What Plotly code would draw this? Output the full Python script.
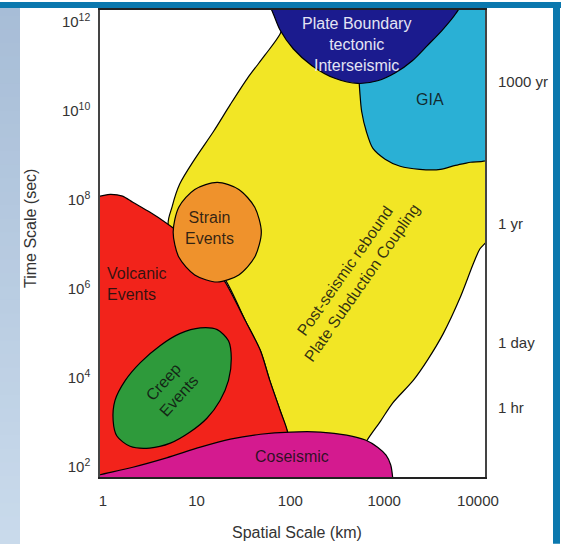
import numpy as np
import plotly.graph_objects as go

# Region outlines, stored as log10(spatial scale, km) and log10(time scale, s)
postseismic_x = [0.70, 0.74, 0.82, 0.98, 1.18, 1.36, 1.54, 1.73, 1.89, 2.02, 4.13, 4.13, 4.02, 3.95,
                 3.81, 3.63, 3.46, 3.31, 3.09, 2.96, 2.82, 2.69, 2.10, 1.97, 1.89, 1.78, 1.68, 1.52,
                 1.30, 1.04]
postseismic_y = [7.42, 7.86, 8.36, 8.92, 9.54, 10.15, 10.73, 11.26, 11.73, 12.45, 12.45, 7.20, 6.90, 6.57,
                 5.81, 5.00, 4.40, 3.95, 3.44, 3.03, 2.61, 2.05, 2.05, 2.79, 3.28, 3.95, 4.62, 5.29,
                 6.23, 6.86]

volcanic_x = [-0.08, -0.03, 0.08, 0.21, 0.32, 0.50, 0.68, 0.93, 1.16, 1.31, 1.52, 1.68, 1.78, 1.89,
              1.97, 2.02, -0.08]
volcanic_y = [8.09, 8.09, 8.13, 8.09, 7.95, 7.73, 7.48, 7.08, 6.59, 6.14, 5.29, 4.62, 3.95, 3.28,
              2.79, 1.71, 1.71]

strain_x = [1.69, 1.62, 1.45, 1.22, 0.98, 0.81, 0.75, 0.81, 0.98, 1.22, 1.45, 1.62]
strain_y = [7.28, 7.84, 8.24, 8.40, 8.24, 7.84, 7.28, 6.72, 6.32, 6.16, 6.32, 6.72]

creep_x = [0.11, 0.13, 0.24, 0.40, 0.61, 0.82, 1.04, 1.22, 1.34, 1.37, 1.34, 1.25, 1.11, 0.93,
           0.72, 0.50, 0.29, 0.15]
creep_y = [3.05, 3.50, 3.95, 4.35, 4.73, 5.00, 5.13, 5.09, 4.84, 4.44, 3.95, 3.50, 3.10, 2.79,
           2.54, 2.43, 2.47, 2.70]

gia_x = [2.69, 4.13, 4.13, 3.92, 3.76, 3.60, 3.38, 3.17, 3.01, 2.88, 2.81, 2.76, 2.74, 2.72]
gia_y = [12.45, 12.45, 8.94, 8.85, 8.78, 8.69, 8.69, 8.76, 8.92, 9.16, 9.54, 9.99, 10.44, 11.11]

plate_x = [1.72, 1.80, 1.89, 2.03, 2.23, 2.48, 2.72, 2.93, 3.12, 3.30, 3.46, 3.62, 3.76, 3.85]
plate_y = [12.56, 12.27, 11.82, 11.40, 11.02, 10.73, 10.62, 10.68, 10.86, 11.13, 11.47, 11.82, 12.18, 12.56]

coseismic_x = [-0.08, -0.03, 0.32, 0.68, 1.04, 1.36, 1.68, 2.00, 2.32, 2.60, 2.80, 2.93, 3.02, 3.07,
               3.09, 3.10, -0.08]
coseismic_y = [1.80, 1.83, 2.00, 2.21, 2.45, 2.63, 2.74, 2.79, 2.79, 2.72, 2.61, 2.45, 2.27, 2.05,
               1.78, 1.49, 1.49]

# Axis ticks
x_ticks = [1, 10, 100, 1000, 10000]
x_ticklabels = ["1", "10", "100", "1000", "10000"]
y_exponents = [2, 4, 6, 8, 10, 12]

# Reference durations on the right side (log10 s)
time_names = ["1000 yr", "1 yr", "1 day", "1 hr"]
time_log = [10.66, 7.48, 4.80, 3.35]

FONT = "Liberation Sans, Arial, Helvetica, sans-serif"
INK = "rgba(15,15,15,0.85)"

regions = [
    (postseismic_x, postseismic_y, "#F2E625"),
    (volcanic_x, volcanic_y, "#F2231B"),
    (strain_x, strain_y, "#EF922C"),
    (creep_x, creep_y, "#2E9A3B"),
    (gia_x, gia_y, "#2AB0D5"),
    (plate_x, plate_y, "#1B1B8E"),
    (coseismic_x, coseismic_y, "#D41A8F"),
]

fig = go.Figure()
for xs, ys, col in regions:
    xs = list(xs) + [xs[0]]
    ys = list(ys) + [ys[0]]
    fig.add_trace(go.Scatter(
        x=10 ** np.array(xs), y=10 ** np.array(ys),
        mode="lines", fill="toself", fillcolor=col,
        line=dict(color="black", width=1.2, shape="spline", smoothing=0.8),
        hoverinfo="skip", showlegend=False,
    ))

# Region labels: (text, log10 km, log10 s, angle, colour, anchor)
labels = [
    ("Plate Boundary<br>tectonic<br>Interseismic", 2.71, 11.50, 0, "#E4E4F4", "center"),
    ("GIA", 3.49, 10.26, 0, INK, "center"),
    ("Strain<br>Events", 1.14, 7.37, 0, INK, "center"),
    ("Volcanic<br>Events", 0.023, 6.12, 0, INK, "left"),
    ("Creep<br>Events", 0.73, 3.75, -48, INK, "center"),
    ("Post-seismic rebound<br>Plate Subduction Coupling", 2.67, 6.28, -55, INK, "center"),
    ("Coseismic", 2.02, 2.23, 0, INK, "center"),
]
for text, lx, ly, ang, col, anc in labels:
    fig.add_annotation(x=lx, y=ly, xref="x", yref="y", text=text, showarrow=False,
                       textangle=ang, xanchor=anc, yanchor="middle", align="left" if anc == "left" else "center",
                       font=dict(family=FONT, size=16, color=col))

for name, ly in zip(time_names, time_log):
    fig.add_annotation(x=1.0286, y=ly, xref="paper", yref="y", text=name, showarrow=False,
                       xanchor="left", yanchor="middle",
                       font=dict(family=FONT, size=15, color="#333"))

# Axis titles
fig.add_annotation(x=0.512, y=-0.119, xref="paper", yref="paper", text="Spatial Scale (km)",
                   showarrow=False, xanchor="center", yanchor="middle",
                   font=dict(family=FONT, size=16, color="#333"))
fig.add_annotation(x=-0.182, y=0.533, xref="paper", yref="paper", text="Time Scale (sec)",
                   showarrow=False, textangle=-90, xanchor="center", yanchor="middle",
                   font=dict(family=FONT, size=16, color="#333"))

# Page frame: light-blue strip on the left (vertical gradient), blue bars on top and right
shapes = []
top_rgb = np.array([167, 189, 215])
bot_rgb = np.array([202, 219, 236])
n = 40
y_top, y_bot = 477 / 469, -67 / 469
for i in range(n):
    t = (i + 0.5) / n
    r, g, b = (top_rgb + (bot_rgb - top_rgb) * t).astype(int)
    y1 = y_top - (y_top - y_bot) * i / n
    y0 = y_top - (y_top - y_bot) * (i + 1.3) / n
    shapes.append(dict(type="rect", xref="paper", yref="paper", x0=-100 / 385, x1=-80 / 385,
                       y0=y0, y1=y1, fillcolor=f"rgb({r},{g},{b})", line=dict(width=0), layer="below"))
shapes.append(dict(type="rect", xref="paper", yref="paper", x0=-100 / 385, x1=461 / 385,
                   y0=471 / 469, y1=477 / 469, fillcolor="#0B78AE", line=dict(width=0), layer="below"))
shapes.append(dict(type="rect", xref="paper", yref="paper", x0=453 / 385, x1=460 / 385,
                   y0=y_bot, y1=y_top, fillcolor="#0B78AE", line=dict(width=0), layer="below"))

fig.update_layout(
    width=561, height=544, autosize=False,
    margin=dict(l=100, r=76, t=8, b=67, pad=0),
    paper_bgcolor="white", plot_bgcolor="white",
    shapes=shapes,
    xaxis=dict(type="log", range=[-0.03, 4.075], tickvals=x_ticks, ticktext=x_ticklabels,
               showgrid=False, zeroline=False, showline=True, linecolor="#222", linewidth=1.5,
               mirror=True, ticks="outside", ticklen=9, tickcolor="rgba(0,0,0,0)",
               tickfont=dict(family=FONT, size=15, color="#333")),
    yaxis=dict(type="log", range=[1.78, 12.27], tickvals=[10.0 ** e for e in y_exponents],
               ticktext=[f"10<sup>{e}</sup>" for e in y_exponents],
               showgrid=False, zeroline=False, showline=True, linecolor="#444", linewidth=1.5,
               mirror=True, ticks="outside", ticklen=5, tickcolor="rgba(0,0,0,0)",
               tickfont=dict(family=FONT, size=15, color="#333")),
)

fig.write_html("out.html")
